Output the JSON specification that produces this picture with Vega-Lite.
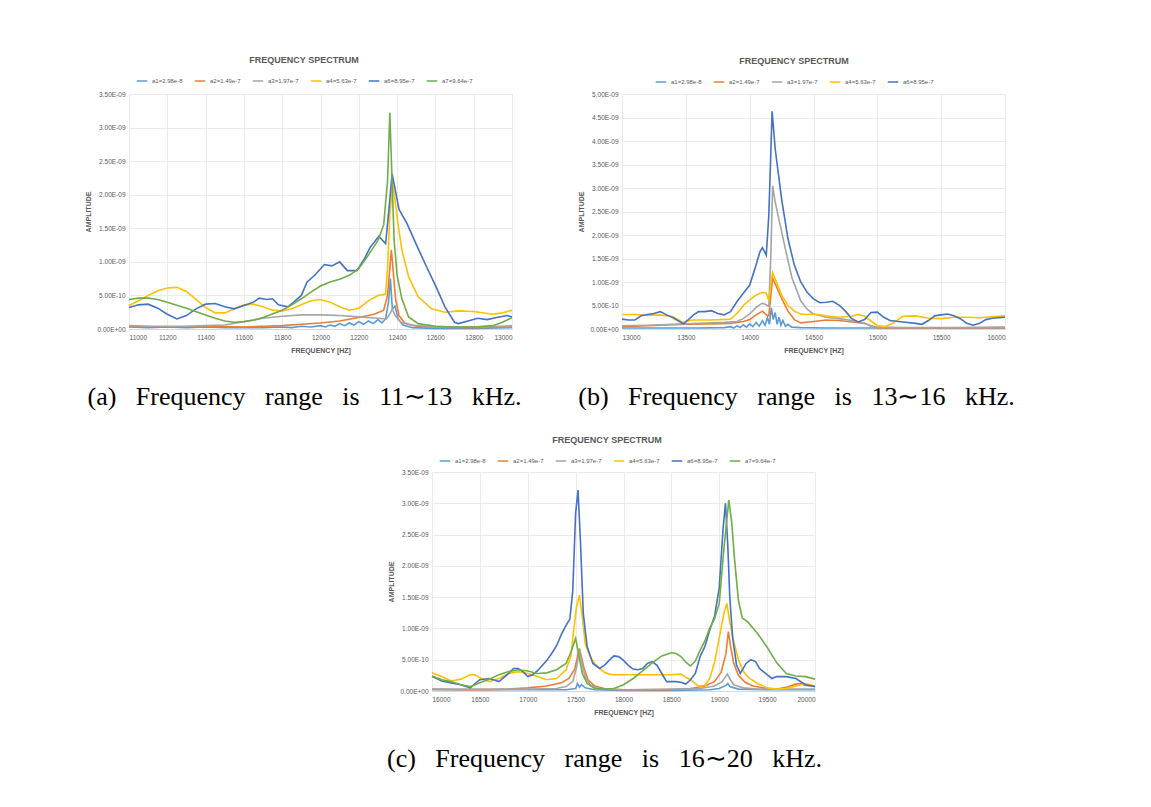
{
"$schema": "https://vega.github.io/schema/vega-lite/v6.json",
"padding": {"left": 84, "top": 56, "right": 5, "bottom": 5},
"bounds": "flush",
"spacing": 378,
"datasets": {
"a": [
{"s":"a1","f":11000,"v":0.03e-9},{"s":"a1","f":11100,"v":0.02e-9},{"s":"a1","f":11200,"v":0.03e-9},{"s":"a1","f":11300,"v":0.02e-9},{"s":"a1","f":11400,"v":0.03e-9},{"s":"a1","f":11500,"v":0.02e-9},{"s":"a1","f":11600,"v":0.02e-9},{"s":"a1","f":11700,"v":0.02e-9},{"s":"a1","f":11800,"v":0.03e-9},{"s":"a1","f":11850,"v":0.02e-9},{"s":"a1","f":11900,"v":0.04e-9},{"s":"a1","f":11950,"v":0.03e-9},{"s":"a1","f":12000,"v":0.05e-9},{"s":"a1","f":12025,"v":0.03e-9},{"s":"a1","f":12050,"v":0.06e-9},{"s":"a1","f":12075,"v":0.04e-9},{"s":"a1","f":12100,"v":0.08e-9},{"s":"a1","f":12125,"v":0.05e-9},{"s":"a1","f":12150,"v":0.09e-9},{"s":"a1","f":12175,"v":0.06e-9},{"s":"a1","f":12200,"v":0.11e-9},{"s":"a1","f":12225,"v":0.07e-9},{"s":"a1","f":12250,"v":0.12e-9},{"s":"a1","f":12275,"v":0.08e-9},{"s":"a1","f":12300,"v":0.14e-9},{"s":"a1","f":12320,"v":0.09e-9},{"s":"a1","f":12340,"v":0.15e-9},{"s":"a1","f":12355,"v":0.40e-9},{"s":"a1","f":12365,"v":0.75e-9},{"s":"a1","f":12375,"v":0.30e-9},{"s":"a1","f":12390,"v":0.34e-9},{"s":"a1","f":12405,"v":0.15e-9},{"s":"a1","f":12430,"v":0.06e-9},{"s":"a1","f":12480,"v":0.02e-9},{"s":"a1","f":12600,"v":0.01e-9},{"s":"a1","f":12800,"v":0.01e-9},{"s":"a1","f":13000,"v":0.02e-9},
{"s":"a2","f":11000,"v":0.04e-9},{"s":"a2","f":11200,"v":0.03e-9},{"s":"a2","f":11400,"v":0.04e-9},{"s":"a2","f":11600,"v":0.03e-9},{"s":"a2","f":11700,"v":0.04e-9},{"s":"a2","f":11800,"v":0.05e-9},{"s":"a2","f":11900,"v":0.07e-9},{"s":"a2","f":12000,"v":0.09e-9},{"s":"a2","f":12100,"v":0.12e-9},{"s":"a2","f":12200,"v":0.17e-9},{"s":"a2","f":12280,"v":0.22e-9},{"s":"a2","f":12330,"v":0.28e-9},{"s":"a2","f":12350,"v":0.5e-9},{"s":"a2","f":12362,"v":0.9e-9},{"s":"a2","f":12370,"v":1.18e-9},{"s":"a2","f":12380,"v":0.85e-9},{"s":"a2","f":12392,"v":0.45e-9},{"s":"a2","f":12410,"v":0.2e-9},{"s":"a2","f":12440,"v":0.09e-9},{"s":"a2","f":12500,"v":0.04e-9},{"s":"a2","f":12600,"v":0.03e-9},{"s":"a2","f":12800,"v":0.02e-9},{"s":"a2","f":13000,"v":0.03e-9},
{"s":"a3","f":11000,"v":0.05e-9},{"s":"a3","f":11100,"v":0.04e-9},{"s":"a3","f":11200,"v":0.04e-9},{"s":"a3","f":11300,"v":0.04e-9},{"s":"a3","f":11400,"v":0.05e-9},{"s":"a3","f":11500,"v":0.06e-9},{"s":"a3","f":11600,"v":0.11e-9},{"s":"a3","f":11700,"v":0.16e-9},{"s":"a3","f":11800,"v":0.19e-9},{"s":"a3","f":11900,"v":0.21e-9},{"s":"a3","f":12000,"v":0.21e-9},{"s":"a3","f":12100,"v":0.2e-9},{"s":"a3","f":12200,"v":0.18e-9},{"s":"a3","f":12300,"v":0.16e-9},{"s":"a3","f":12345,"v":0.15e-9},{"s":"a3","f":12365,"v":0.24e-9},{"s":"a3","f":12375,"v":0.30e-9},{"s":"a3","f":12390,"v":0.2e-9},{"s":"a3","f":12420,"v":0.1e-9},{"s":"a3","f":12470,"v":0.06e-9},{"s":"a3","f":12550,"v":0.04e-9},{"s":"a3","f":12700,"v":0.03e-9},{"s":"a3","f":12850,"v":0.03e-9},{"s":"a3","f":13000,"v":0.05e-9},
{"s":"a4","f":11000,"v":0.35e-9},{"s":"a4","f":11050,"v":0.42e-9},{"s":"a4","f":11100,"v":0.50e-9},{"s":"a4","f":11150,"v":0.57e-9},{"s":"a4","f":11200,"v":0.61e-9},{"s":"a4","f":11250,"v":0.62e-9},{"s":"a4","f":11300,"v":0.56e-9},{"s":"a4","f":11350,"v":0.44e-9},{"s":"a4","f":11400,"v":0.32e-9},{"s":"a4","f":11450,"v":0.24e-9},{"s":"a4","f":11500,"v":0.24e-9},{"s":"a4","f":11550,"v":0.30e-9},{"s":"a4","f":11600,"v":0.36e-9},{"s":"a4","f":11650,"v":0.37e-9},{"s":"a4","f":11700,"v":0.33e-9},{"s":"a4","f":11750,"v":0.28e-9},{"s":"a4","f":11800,"v":0.27e-9},{"s":"a4","f":11850,"v":0.30e-9},{"s":"a4","f":11900,"v":0.36e-9},{"s":"a4","f":11950,"v":0.42e-9},{"s":"a4","f":12000,"v":0.44e-9},{"s":"a4","f":12050,"v":0.40e-9},{"s":"a4","f":12100,"v":0.33e-9},{"s":"a4","f":12150,"v":0.28e-9},{"s":"a4","f":12200,"v":0.31e-9},{"s":"a4","f":12250,"v":0.42e-9},{"s":"a4","f":12300,"v":0.50e-9},{"s":"a4","f":12340,"v":0.52e-9},{"s":"a4","f":12350,"v":0.9e-9},{"s":"a4","f":12362,"v":1.7e-9},{"s":"a4","f":12378,"v":2.15e-9},{"s":"a4","f":12390,"v":1.9e-9},{"s":"a4","f":12402,"v":1.62e-9},{"s":"a4","f":12425,"v":1.18e-9},{"s":"a4","f":12460,"v":0.78e-9},{"s":"a4","f":12510,"v":0.48e-9},{"s":"a4","f":12580,"v":0.30e-9},{"s":"a4","f":12650,"v":0.25e-9},{"s":"a4","f":12720,"v":0.27e-9},{"s":"a4","f":12800,"v":0.26e-9},{"s":"a4","f":12900,"v":0.22e-9},{"s":"a4","f":12950,"v":0.24e-9},{"s":"a4","f":13000,"v":0.28e-9},
{"s":"a6","f":11000,"v":0.32e-9},{"s":"a6","f":11050,"v":0.36e-9},{"s":"a6","f":11100,"v":0.37e-9},{"s":"a6","f":11150,"v":0.31e-9},{"s":"a6","f":11200,"v":0.22e-9},{"s":"a6","f":11250,"v":0.15e-9},{"s":"a6","f":11300,"v":0.20e-9},{"s":"a6","f":11350,"v":0.30e-9},{"s":"a6","f":11400,"v":0.37e-9},{"s":"a6","f":11450,"v":0.38e-9},{"s":"a6","f":11500,"v":0.33e-9},{"s":"a6","f":11550,"v":0.30e-9},{"s":"a6","f":11600,"v":0.35e-9},{"s":"a6","f":11650,"v":0.40e-9},{"s":"a6","f":11680,"v":0.46e-9},{"s":"a6","f":11720,"v":0.44e-9},{"s":"a6","f":11750,"v":0.45e-9},{"s":"a6","f":11780,"v":0.36e-9},{"s":"a6","f":11830,"v":0.33e-9},{"s":"a6","f":11860,"v":0.40e-9},{"s":"a6","f":11900,"v":0.50e-9},{"s":"a6","f":11930,"v":0.70e-9},{"s":"a6","f":11970,"v":0.80e-9},{"s":"a6","f":12020,"v":0.96e-9},{"s":"a6","f":12060,"v":0.94e-9},{"s":"a6","f":12100,"v":1.00e-9},{"s":"a6","f":12140,"v":0.87e-9},{"s":"a6","f":12190,"v":0.87e-9},{"s":"a6","f":12230,"v":1.05e-9},{"s":"a6","f":12260,"v":1.22e-9},{"s":"a6","f":12305,"v":1.38e-9},{"s":"a6","f":12340,"v":1.27e-9},{"s":"a6","f":12358,"v":1.80e-9},{"s":"a6","f":12374,"v":2.31e-9},{"s":"a6","f":12392,"v":2.05e-9},{"s":"a6","f":12410,"v":1.78e-9},{"s":"a6","f":12450,"v":1.58e-9},{"s":"a6","f":12500,"v":1.26e-9},{"s":"a6","f":12550,"v":0.95e-9},{"s":"a6","f":12600,"v":0.65e-9},{"s":"a6","f":12650,"v":0.33e-9},{"s":"a6","f":12700,"v":0.10e-9},{"s":"a6","f":12720,"v":0.08e-9},{"s":"a6","f":12770,"v":0.12e-9},{"s":"a6","f":12820,"v":0.16e-9},{"s":"a6","f":12870,"v":0.14e-9},{"s":"a6","f":12920,"v":0.17e-9},{"s":"a6","f":12975,"v":0.20e-9},{"s":"a6","f":13000,"v":0.18e-9},
{"s":"a7","f":11000,"v":0.44e-9},{"s":"a7","f":11050,"v":0.46e-9},{"s":"a7","f":11100,"v":0.46e-9},{"s":"a7","f":11150,"v":0.44e-9},{"s":"a7","f":11200,"v":0.40e-9},{"s":"a7","f":11300,"v":0.31e-9},{"s":"a7","f":11400,"v":0.21e-9},{"s":"a7","f":11450,"v":0.16e-9},{"s":"a7","f":11500,"v":0.12e-9},{"s":"a7","f":11550,"v":0.10e-9},{"s":"a7","f":11600,"v":0.11e-9},{"s":"a7","f":11650,"v":0.13e-9},{"s":"a7","f":11700,"v":0.17e-9},{"s":"a7","f":11800,"v":0.28e-9},{"s":"a7","f":11850,"v":0.36e-9},{"s":"a7","f":11900,"v":0.45e-9},{"s":"a7","f":11950,"v":0.55e-9},{"s":"a7","f":12000,"v":0.64e-9},{"s":"a7","f":12050,"v":0.70e-9},{"s":"a7","f":12100,"v":0.74e-9},{"s":"a7","f":12150,"v":0.80e-9},{"s":"a7","f":12200,"v":0.90e-9},{"s":"a7","f":12250,"v":1.10e-9},{"s":"a7","f":12300,"v":1.32e-9},{"s":"a7","f":12330,"v":1.55e-9},{"s":"a7","f":12350,"v":2.2e-9},{"s":"a7","f":12362,"v":3.22e-9},{"s":"a7","f":12375,"v":2.1e-9},{"s":"a7","f":12385,"v":1.3e-9},{"s":"a7","f":12400,"v":0.8e-9},{"s":"a7","f":12425,"v":0.45e-9},{"s":"a7","f":12460,"v":0.18e-9},{"s":"a7","f":12510,"v":0.08e-9},{"s":"a7","f":12600,"v":0.04e-9},{"s":"a7","f":12700,"v":0.03e-9},{"s":"a7","f":12800,"v":0.03e-9},{"s":"a7","f":12900,"v":0.05e-9},{"s":"a7","f":12950,"v":0.10e-9},{"s":"a7","f":13000,"v":0.17e-9}
],
"b": [
{"s":"a1","f":13000,"v":0.02e-9},{"s":"a1","f":13200,"v":0.02e-9},{"s":"a1","f":13400,"v":0.02e-9},{"s":"a1","f":13600,"v":0.02e-9},{"s":"a1","f":13800,"v":0.03e-9},{"s":"a1","f":13850,"v":0.05e-9},{"s":"a1","f":13875,"v":0.02e-9},{"s":"a1","f":13900,"v":0.07e-9},{"s":"a1","f":13925,"v":0.03e-9},{"s":"a1","f":13950,"v":0.09e-9},{"s":"a1","f":13975,"v":0.04e-9},{"s":"a1","f":14000,"v":0.11e-9},{"s":"a1","f":14025,"v":0.05e-9},{"s":"a1","f":14050,"v":0.14e-9},{"s":"a1","f":14075,"v":0.06e-9},{"s":"a1","f":14100,"v":0.18e-9},{"s":"a1","f":14120,"v":0.08e-9},{"s":"a1","f":14140,"v":0.24e-9},{"s":"a1","f":14155,"v":0.1e-9},{"s":"a1","f":14170,"v":0.45e-9},{"s":"a1","f":14185,"v":0.2e-9},{"s":"a1","f":14200,"v":0.35e-9},{"s":"a1","f":14215,"v":0.1e-9},{"s":"a1","f":14230,"v":0.25e-9},{"s":"a1","f":14245,"v":0.08e-9},{"s":"a1","f":14260,"v":0.18e-9},{"s":"a1","f":14280,"v":0.06e-9},{"s":"a1","f":14300,"v":0.1e-9},{"s":"a1","f":14330,"v":0.04e-9},{"s":"a1","f":14400,"v":0.03e-9},{"s":"a1","f":14600,"v":0.02e-9},{"s":"a1","f":15000,"v":0.02e-9},{"s":"a1","f":15500,"v":0.02e-9},{"s":"a1","f":16000,"v":0.02e-9},
{"s":"a2","f":13000,"v":0.05e-9},{"s":"a2","f":13200,"v":0.07e-9},{"s":"a2","f":13400,"v":0.09e-9},{"s":"a2","f":13500,"v":0.1e-9},{"s":"a2","f":13700,"v":0.11e-9},{"s":"a2","f":13850,"v":0.12e-9},{"s":"a2","f":13950,"v":0.16e-9},{"s":"a2","f":14000,"v":0.2e-9},{"s":"a2","f":14050,"v":0.3e-9},{"s":"a2","f":14100,"v":0.38e-9},{"s":"a2","f":14130,"v":0.3e-9},{"s":"a2","f":14150,"v":0.28e-9},{"s":"a2","f":14165,"v":0.7e-9},{"s":"a2","f":14180,"v":1.08e-9},{"s":"a2","f":14210,"v":0.9e-9},{"s":"a2","f":14250,"v":0.65e-9},{"s":"a2","f":14300,"v":0.38e-9},{"s":"a2","f":14350,"v":0.2e-9},{"s":"a2","f":14400,"v":0.13e-9},{"s":"a2","f":14500,"v":0.16e-9},{"s":"a2","f":14600,"v":0.19e-9},{"s":"a2","f":14700,"v":0.18e-9},{"s":"a2","f":14800,"v":0.15e-9},{"s":"a2","f":14900,"v":0.12e-9},{"s":"a2","f":14950,"v":0.06e-9},{"s":"a2","f":15000,"v":0.03e-9},{"s":"a2","f":15200,"v":0.02e-9},{"s":"a2","f":15600,"v":0.02e-9},{"s":"a2","f":16000,"v":0.03e-9},
{"s":"a3","f":13000,"v":0.07e-9},{"s":"a3","f":13200,"v":0.08e-9},{"s":"a3","f":13400,"v":0.1e-9},{"s":"a3","f":13600,"v":0.12e-9},{"s":"a3","f":13800,"v":0.14e-9},{"s":"a3","f":13900,"v":0.16e-9},{"s":"a3","f":13950,"v":0.22e-9},{"s":"a3","f":14000,"v":0.32e-9},{"s":"a3","f":14050,"v":0.46e-9},{"s":"a3","f":14100,"v":0.55e-9},{"s":"a3","f":14125,"v":0.52e-9},{"s":"a3","f":14150,"v":0.48e-9},{"s":"a3","f":14165,"v":1.5e-9},{"s":"a3","f":14180,"v":3.05e-9},{"s":"a3","f":14200,"v":2.7e-9},{"s":"a3","f":14240,"v":2.2e-9},{"s":"a3","f":14280,"v":1.7e-9},{"s":"a3","f":14330,"v":1.1e-9},{"s":"a3","f":14400,"v":0.6e-9},{"s":"a3","f":14450,"v":0.42e-9},{"s":"a3","f":14500,"v":0.32e-9},{"s":"a3","f":14600,"v":0.25e-9},{"s":"a3","f":14700,"v":0.22e-9},{"s":"a3","f":14800,"v":0.18e-9},{"s":"a3","f":14900,"v":0.12e-9},{"s":"a3","f":14950,"v":0.07e-9},{"s":"a3","f":15000,"v":0.04e-9},{"s":"a3","f":15200,"v":0.03e-9},{"s":"a3","f":15600,"v":0.03e-9},{"s":"a3","f":16000,"v":0.04e-9},
{"s":"a4","f":13000,"v":0.31e-9},{"s":"a4","f":13100,"v":0.31e-9},{"s":"a4","f":13200,"v":0.29e-9},{"s":"a4","f":13300,"v":0.30e-9},{"s":"a4","f":13400,"v":0.26e-9},{"s":"a4","f":13450,"v":0.18e-9},{"s":"a4","f":13480,"v":0.14e-9},{"s":"a4","f":13550,"v":0.19e-9},{"s":"a4","f":13700,"v":0.19e-9},{"s":"a4","f":13850,"v":0.21e-9},{"s":"a4","f":13900,"v":0.33e-9},{"s":"a4","f":13950,"v":0.5e-9},{"s":"a4","f":14000,"v":0.62e-9},{"s":"a4","f":14050,"v":0.72e-9},{"s":"a4","f":14100,"v":0.78e-9},{"s":"a4","f":14130,"v":0.76e-9},{"s":"a4","f":14150,"v":0.6e-9},{"s":"a4","f":14165,"v":0.95e-9},{"s":"a4","f":14180,"v":1.2e-9},{"s":"a4","f":14210,"v":1.0e-9},{"s":"a4","f":14250,"v":0.72e-9},{"s":"a4","f":14300,"v":0.5e-9},{"s":"a4","f":14350,"v":0.38e-9},{"s":"a4","f":14400,"v":0.32e-9},{"s":"a4","f":14450,"v":0.31e-9},{"s":"a4","f":14500,"v":0.32e-9},{"s":"a4","f":14600,"v":0.28e-9},{"s":"a4","f":14700,"v":0.25e-9},{"s":"a4","f":14800,"v":0.27e-9},{"s":"a4","f":14850,"v":0.31e-9},{"s":"a4","f":14900,"v":0.27e-9},{"s":"a4","f":14950,"v":0.17e-9},{"s":"a4","f":15000,"v":0.07e-9},{"s":"a4","f":15060,"v":0.05e-9},{"s":"a4","f":15120,"v":0.12e-9},{"s":"a4","f":15200,"v":0.27e-9},{"s":"a4","f":15300,"v":0.28e-9},{"s":"a4","f":15400,"v":0.23e-9},{"s":"a4","f":15500,"v":0.22e-9},{"s":"a4","f":15600,"v":0.25e-9},{"s":"a4","f":15700,"v":0.25e-9},{"s":"a4","f":15800,"v":0.24e-9},{"s":"a4","f":15900,"v":0.26e-9},{"s":"a4","f":16000,"v":0.28e-9},
{"s":"a6","f":13000,"v":0.21e-9},{"s":"a6","f":13050,"v":0.19e-9},{"s":"a6","f":13100,"v":0.19e-9},{"s":"a6","f":13150,"v":0.28e-9},{"s":"a6","f":13200,"v":0.31e-9},{"s":"a6","f":13250,"v":0.33e-9},{"s":"a6","f":13300,"v":0.37e-9},{"s":"a6","f":13350,"v":0.30e-9},{"s":"a6","f":13400,"v":0.24e-9},{"s":"a6","f":13450,"v":0.16e-9},{"s":"a6","f":13480,"v":0.11e-9},{"s":"a6","f":13520,"v":0.2e-9},{"s":"a6","f":13560,"v":0.3e-9},{"s":"a6","f":13600,"v":0.37e-9},{"s":"a6","f":13650,"v":0.37e-9},{"s":"a6","f":13700,"v":0.39e-9},{"s":"a6","f":13750,"v":0.33e-9},{"s":"a6","f":13800,"v":0.30e-9},{"s":"a6","f":13850,"v":0.37e-9},{"s":"a6","f":13900,"v":0.58e-9},{"s":"a6","f":13950,"v":0.76e-9},{"s":"a6","f":14000,"v":0.93e-9},{"s":"a6","f":14050,"v":1.36e-9},{"s":"a6","f":14080,"v":1.64e-9},{"s":"a6","f":14100,"v":1.73e-9},{"s":"a6","f":14130,"v":1.57e-9},{"s":"a6","f":14150,"v":2.42e-9},{"s":"a6","f":14176,"v":4.63e-9},{"s":"a6","f":14200,"v":3.83e-9},{"s":"a6","f":14250,"v":2.77e-9},{"s":"a6","f":14300,"v":1.92e-9},{"s":"a6","f":14350,"v":1.36e-9},{"s":"a6","f":14400,"v":1.0e-9},{"s":"a6","f":14450,"v":0.78e-9},{"s":"a6","f":14500,"v":0.64e-9},{"s":"a6","f":14550,"v":0.56e-9},{"s":"a6","f":14600,"v":0.57e-9},{"s":"a6","f":14650,"v":0.59e-9},{"s":"a6","f":14700,"v":0.51e-9},{"s":"a6","f":14750,"v":0.38e-9},{"s":"a6","f":14800,"v":0.22e-9},{"s":"a6","f":14850,"v":0.15e-9},{"s":"a6","f":14900,"v":0.2e-9},{"s":"a6","f":14950,"v":0.35e-9},{"s":"a6","f":15000,"v":0.36e-9},{"s":"a6","f":15050,"v":0.25e-9},{"s":"a6","f":15100,"v":0.18e-9},{"s":"a6","f":15200,"v":0.15e-9},{"s":"a6","f":15300,"v":0.12e-9},{"s":"a6","f":15350,"v":0.1e-9},{"s":"a6","f":15400,"v":0.18e-9},{"s":"a6","f":15450,"v":0.28e-9},{"s":"a6","f":15500,"v":0.3e-9},{"s":"a6","f":15550,"v":0.32e-9},{"s":"a6","f":15600,"v":0.28e-9},{"s":"a6","f":15650,"v":0.22e-9},{"s":"a6","f":15700,"v":0.12e-9},{"s":"a6","f":15750,"v":0.08e-9},{"s":"a6","f":15800,"v":0.12e-9},{"s":"a6","f":15850,"v":0.2e-9},{"s":"a6","f":15900,"v":0.23e-9},{"s":"a6","f":16000,"v":0.25e-9}
],
"c": [
{"s":"a1","f":16000,"v":0.02e-9},{"s":"a1","f":16500,"v":0.02e-9},{"s":"a1","f":17000,"v":0.02e-9},{"s":"a1","f":17400,"v":0.02e-9},{"s":"a1","f":17500,"v":0.04e-9},{"s":"a1","f":17520,"v":0.12e-9},{"s":"a1","f":17540,"v":0.06e-9},{"s":"a1","f":17560,"v":0.1e-9},{"s":"a1","f":17600,"v":0.05e-9},{"s":"a1","f":17700,"v":0.02e-9},{"s":"a1","f":18000,"v":0.01e-9},{"s":"a1","f":18500,"v":0.01e-9},{"s":"a1","f":18900,"v":0.02e-9},{"s":"a1","f":19000,"v":0.04e-9},{"s":"a1","f":19070,"v":0.09e-9},{"s":"a1","f":19090,"v":0.12e-9},{"s":"a1","f":19110,"v":0.07e-9},{"s":"a1","f":19200,"v":0.03e-9},{"s":"a1","f":19500,"v":0.02e-9},{"s":"a1","f":20000,"v":0.02e-9},
{"s":"a2","f":16000,"v":0.03e-9},{"s":"a2","f":16300,"v":0.02e-9},{"s":"a2","f":16600,"v":0.02e-9},{"s":"a2","f":16800,"v":0.03e-9},{"s":"a2","f":17000,"v":0.05e-9},{"s":"a2","f":17200,"v":0.08e-9},{"s":"a2","f":17350,"v":0.13e-9},{"s":"a2","f":17430,"v":0.2e-9},{"s":"a2","f":17490,"v":0.35e-9},{"s":"a2","f":17520,"v":0.55e-9},{"s":"a2","f":17540,"v":0.68e-9},{"s":"a2","f":17560,"v":0.55e-9},{"s":"a2","f":17590,"v":0.35e-9},{"s":"a2","f":17630,"v":0.18e-9},{"s":"a2","f":17700,"v":0.08e-9},{"s":"a2","f":17800,"v":0.04e-9},{"s":"a2","f":18000,"v":0.02e-9},{"s":"a2","f":18500,"v":0.02e-9},{"s":"a2","f":18700,"v":0.04e-9},{"s":"a2","f":18850,"v":0.08e-9},{"s":"a2","f":18950,"v":0.15e-9},{"s":"a2","f":19020,"v":0.3e-9},{"s":"a2","f":19070,"v":0.6e-9},{"s":"a2","f":19095,"v":0.95e-9},{"s":"a2","f":19120,"v":0.7e-9},{"s":"a2","f":19150,"v":0.45e-9},{"s":"a2","f":19200,"v":0.25e-9},{"s":"a2","f":19270,"v":0.14e-9},{"s":"a2","f":19350,"v":0.08e-9},{"s":"a2","f":19500,"v":0.04e-9},{"s":"a2","f":19600,"v":0.03e-9},{"s":"a2","f":19700,"v":0.06e-9},{"s":"a2","f":19800,"v":0.11e-9},{"s":"a2","f":19850,"v":0.12e-9},{"s":"a2","f":19900,"v":0.09e-9},{"s":"a2","f":20000,"v":0.08e-9},
{"s":"a3","f":16000,"v":0.03e-9},{"s":"a3","f":16500,"v":0.03e-9},{"s":"a3","f":17000,"v":0.03e-9},{"s":"a3","f":17300,"v":0.04e-9},{"s":"a3","f":17400,"v":0.07e-9},{"s":"a3","f":17470,"v":0.15e-9},{"s":"a3","f":17510,"v":0.38e-9},{"s":"a3","f":17540,"v":0.65e-9},{"s":"a3","f":17565,"v":0.45e-9},{"s":"a3","f":17600,"v":0.22e-9},{"s":"a3","f":17650,"v":0.1e-9},{"s":"a3","f":17750,"v":0.03e-9},{"s":"a3","f":18000,"v":0.02e-9},{"s":"a3","f":18500,"v":0.03e-9},{"s":"a3","f":18800,"v":0.04e-9},{"s":"a3","f":18950,"v":0.08e-9},{"s":"a3","f":19030,"v":0.15e-9},{"s":"a3","f":19085,"v":0.27e-9},{"s":"a3","f":19110,"v":0.2e-9},{"s":"a3","f":19150,"v":0.1e-9},{"s":"a3","f":19250,"v":0.05e-9},{"s":"a3","f":19400,"v":0.03e-9},{"s":"a3","f":20000,"v":0.03e-9},
{"s":"a4","f":16000,"v":0.29e-9},{"s":"a4","f":16100,"v":0.23e-9},{"s":"a4","f":16200,"v":0.16e-9},{"s":"a4","f":16300,"v":0.19e-9},{"s":"a4","f":16400,"v":0.26e-9},{"s":"a4","f":16450,"v":0.26e-9},{"s":"a4","f":16500,"v":0.21e-9},{"s":"a4","f":16600,"v":0.15e-9},{"s":"a4","f":16700,"v":0.2e-9},{"s":"a4","f":16800,"v":0.28e-9},{"s":"a4","f":16900,"v":0.31e-9},{"s":"a4","f":17000,"v":0.28e-9},{"s":"a4","f":17100,"v":0.23e-9},{"s":"a4","f":17200,"v":0.18e-9},{"s":"a4","f":17300,"v":0.2e-9},{"s":"a4","f":17400,"v":0.34e-9},{"s":"a4","f":17450,"v":0.56e-9},{"s":"a4","f":17480,"v":0.97e-9},{"s":"a4","f":17510,"v":1.35e-9},{"s":"a4","f":17540,"v":1.53e-9},{"s":"a4","f":17570,"v":1.19e-9},{"s":"a4","f":17600,"v":0.76e-9},{"s":"a4","f":17650,"v":0.55e-9},{"s":"a4","f":17700,"v":0.44e-9},{"s":"a4","f":17750,"v":0.36e-9},{"s":"a4","f":17800,"v":0.3e-9},{"s":"a4","f":17850,"v":0.27e-9},{"s":"a4","f":17900,"v":0.26e-9},{"s":"a4","f":18200,"v":0.26e-9},{"s":"a4","f":18500,"v":0.26e-9},{"s":"a4","f":18600,"v":0.27e-9},{"s":"a4","f":18650,"v":0.22e-9},{"s":"a4","f":18700,"v":0.18e-9},{"s":"a4","f":18780,"v":0.08e-9},{"s":"a4","f":18850,"v":0.09e-9},{"s":"a4","f":18900,"v":0.2e-9},{"s":"a4","f":18950,"v":0.45e-9},{"s":"a4","f":19000,"v":0.85e-9},{"s":"a4","f":19050,"v":1.25e-9},{"s":"a4","f":19080,"v":1.4e-9},{"s":"a4","f":19110,"v":1.1e-9},{"s":"a4","f":19150,"v":0.8e-9},{"s":"a4","f":19200,"v":0.5e-9},{"s":"a4","f":19250,"v":0.32e-9},{"s":"a4","f":19300,"v":0.22e-9},{"s":"a4","f":19400,"v":0.12e-9},{"s":"a4","f":19500,"v":0.05e-9},{"s":"a4","f":19600,"v":0.03e-9},{"s":"a4","f":19700,"v":0.04e-9},{"s":"a4","f":19800,"v":0.08e-9},{"s":"a4","f":19900,"v":0.12e-9},{"s":"a4","f":20000,"v":0.08e-9},
{"s":"a6","f":16000,"v":0.23e-9},{"s":"a6","f":16050,"v":0.2e-9},{"s":"a6","f":16100,"v":0.16e-9},{"s":"a6","f":16200,"v":0.13e-9},{"s":"a6","f":16300,"v":0.1e-9},{"s":"a6","f":16400,"v":0.05e-9},{"s":"a6","f":16450,"v":0.12e-9},{"s":"a6","f":16500,"v":0.18e-9},{"s":"a6","f":16600,"v":0.2e-9},{"s":"a6","f":16700,"v":0.15e-9},{"s":"a6","f":16800,"v":0.28e-9},{"s":"a6","f":16850,"v":0.36e-9},{"s":"a6","f":16900,"v":0.36e-9},{"s":"a6","f":16950,"v":0.31e-9},{"s":"a6","f":17000,"v":0.23e-9},{"s":"a6","f":17050,"v":0.26e-9},{"s":"a6","f":17100,"v":0.32e-9},{"s":"a6","f":17200,"v":0.49e-9},{"s":"a6","f":17250,"v":0.6e-9},{"s":"a6","f":17300,"v":0.72e-9},{"s":"a6","f":17350,"v":0.9e-9},{"s":"a6","f":17400,"v":1.05e-9},{"s":"a6","f":17440,"v":1.15e-9},{"s":"a6","f":17470,"v":1.6e-9},{"s":"a6","f":17500,"v":2.84e-9},{"s":"a6","f":17525,"v":3.21e-9},{"s":"a6","f":17550,"v":2.41e-9},{"s":"a6","f":17580,"v":1.24e-9},{"s":"a6","f":17620,"v":0.71e-9},{"s":"a6","f":17680,"v":0.44e-9},{"s":"a6","f":17750,"v":0.36e-9},{"s":"a6","f":17800,"v":0.41e-9},{"s":"a6","f":17850,"v":0.49e-9},{"s":"a6","f":17900,"v":0.56e-9},{"s":"a6","f":17950,"v":0.55e-9},{"s":"a6","f":18000,"v":0.49e-9},{"s":"a6","f":18050,"v":0.41e-9},{"s":"a6","f":18100,"v":0.35e-9},{"s":"a6","f":18150,"v":0.34e-9},{"s":"a6","f":18200,"v":0.36e-9},{"s":"a6","f":18250,"v":0.44e-9},{"s":"a6","f":18300,"v":0.47e-9},{"s":"a6","f":18350,"v":0.41e-9},{"s":"a6","f":18400,"v":0.28e-9},{"s":"a6","f":18450,"v":0.15e-9},{"s":"a6","f":18500,"v":0.15e-9},{"s":"a6","f":18550,"v":0.15e-9},{"s":"a6","f":18600,"v":0.14e-9},{"s":"a6","f":18650,"v":0.11e-9},{"s":"a6","f":18700,"v":0.18e-9},{"s":"a6","f":18750,"v":0.28e-9},{"s":"a6","f":18800,"v":0.55e-9},{"s":"a6","f":18850,"v":0.71e-9},{"s":"a6","f":18900,"v":0.97e-9},{"s":"a6","f":18950,"v":1.19e-9},{"s":"a6","f":19000,"v":1.65e-9},{"s":"a6","f":19040,"v":2.6e-9},{"s":"a6","f":19065,"v":3.0e-9},{"s":"a6","f":19090,"v":2.3e-9},{"s":"a6","f":19110,"v":1.5e-9},{"s":"a6","f":19140,"v":0.85e-9},{"s":"a6","f":19180,"v":0.42e-9},{"s":"a6","f":19220,"v":0.28e-9},{"s":"a6","f":19280,"v":0.44e-9},{"s":"a6","f":19330,"v":0.5e-9},{"s":"a6","f":19380,"v":0.47e-9},{"s":"a6","f":19420,"v":0.36e-9},{"s":"a6","f":19500,"v":0.26e-9},{"s":"a6","f":19550,"v":0.2e-9},{"s":"a6","f":19600,"v":0.23e-9},{"s":"a6","f":19700,"v":0.23e-9},{"s":"a6","f":19800,"v":0.2e-9},{"s":"a6","f":19900,"v":0.1e-9},{"s":"a6","f":20000,"v":0.07e-9},
{"s":"a7","f":16000,"v":0.24e-9},{"s":"a7","f":16100,"v":0.18e-9},{"s":"a7","f":16200,"v":0.15e-9},{"s":"a7","f":16300,"v":0.1e-9},{"s":"a7","f":16400,"v":0.07e-9},{"s":"a7","f":16500,"v":0.13e-9},{"s":"a7","f":16600,"v":0.19e-9},{"s":"a7","f":16700,"v":0.26e-9},{"s":"a7","f":16800,"v":0.31e-9},{"s":"a7","f":16900,"v":0.34e-9},{"s":"a7","f":17000,"v":0.32e-9},{"s":"a7","f":17100,"v":0.28e-9},{"s":"a7","f":17200,"v":0.29e-9},{"s":"a7","f":17300,"v":0.34e-9},{"s":"a7","f":17400,"v":0.44e-9},{"s":"a7","f":17450,"v":0.62e-9},{"s":"a7","f":17500,"v":0.84e-9},{"s":"a7","f":17530,"v":0.6e-9},{"s":"a7","f":17570,"v":0.28e-9},{"s":"a7","f":17620,"v":0.12e-9},{"s":"a7","f":17700,"v":0.04e-9},{"s":"a7","f":17800,"v":0.03e-9},{"s":"a7","f":17900,"v":0.04e-9},{"s":"a7","f":18000,"v":0.1e-9},{"s":"a7","f":18100,"v":0.2e-9},{"s":"a7","f":18200,"v":0.32e-9},{"s":"a7","f":18300,"v":0.45e-9},{"s":"a7","f":18400,"v":0.56e-9},{"s":"a7","f":18500,"v":0.61e-9},{"s":"a7","f":18550,"v":0.6e-9},{"s":"a7","f":18600,"v":0.55e-9},{"s":"a7","f":18650,"v":0.46e-9},{"s":"a7","f":18700,"v":0.4e-9},{"s":"a7","f":18750,"v":0.48e-9},{"s":"a7","f":18800,"v":0.65e-9},{"s":"a7","f":18850,"v":0.8e-9},{"s":"a7","f":18900,"v":1.0e-9},{"s":"a7","f":18950,"v":1.15e-9},{"s":"a7","f":19000,"v":1.4e-9},{"s":"a7","f":19050,"v":2.3e-9},{"s":"a7","f":19100,"v":3.05e-9},{"s":"a7","f":19130,"v":2.7e-9},{"s":"a7","f":19160,"v":2.1e-9},{"s":"a7","f":19200,"v":1.45e-9},{"s":"a7","f":19240,"v":1.17e-9},{"s":"a7","f":19300,"v":1.1e-9},{"s":"a7","f":19400,"v":0.92e-9},{"s":"a7","f":19500,"v":0.7e-9},{"s":"a7","f":19600,"v":0.45e-9},{"s":"a7","f":19700,"v":0.28e-9},{"s":"a7","f":19800,"v":0.24e-9},{"s":"a7","f":19900,"v":0.23e-9},{"s":"a7","f":20000,"v":0.19e-9}
]
},
"vconcat": [
{
"bounds": "flush",
"spacing": 110,
"hconcat": [
{
"width": 383, "height": 235,
"data": {"name": "a"},
"title": {"text": "(a)\u00a0\u00a0\u00a0Frequency\u00a0\u00a0\u00a0range\u00a0\u00a0\u00a0is\u00a0\u00a0\u00a011\u223c13\u00a0\u00a0\u00a0kHz.", "dx": -16},
"mark": {"type": "line", "strokeWidth": 1.6},
"encoding": {
"x": {"field": "f", "type": "quantitative", "scale": {"domain": [11000, 13000], "nice": false, "zero": false}, "axis": {"values": [11000,11200,11400,11600,11800,12000,12200,12400,12600,12800,13000], "format": "d", "title": "FREQUENCY [HZ]"}},
"y": {"field": "v", "type": "quantitative", "scale": {"domain": [0, 3.5e-9], "nice": false}, "axis": {"values": [0,5e-10,1e-9,1.5e-9,2e-9,2.5e-9,3e-9,3.5e-9], "title": "AMPLITUDE"}},
"color": {"field": "s", "type": "nominal", "sort": null, "scale": {"domain": ["a1","a2","a3","a4","a6","a7"], "range": ["#5B9BD5","#ED7D31","#A5A5A5","#FFC000","#4472C4","#70AD47"]}, "legend": {"title": "FREQUENCY SPECTRUM", "orient": "none", "legendX": 7, "legendY": -38, "labelExpr": "datum.label == 'a1' ? 'a1=2.98e-8' : datum.label == 'a2' ? 'a2=1.49e-7' : datum.label == 'a3' ? 'a3=1.97e-7' : datum.label == 'a4' ? 'a4=5.63e-7' : datum.label == 'a6' ? 'a6=8.95e-7' : 'a7=9.64e-7'"}}
}
},
{
"width": 383, "height": 235,
"data": {"name": "b"},
"title": {"text": "(b)\u00a0\u00a0\u00a0Frequency\u00a0\u00a0\u00a0range\u00a0\u00a0\u00a0is\u00a0\u00a0\u00a013\u223c16\u00a0\u00a0\u00a0kHz.", "dx": -17},
"mark": {"type": "line", "strokeWidth": 1.6},
"encoding": {
"x": {"field": "f", "type": "quantitative", "scale": {"domain": [13000, 16000], "nice": false, "zero": false}, "axis": {"values": [13000,13500,14000,14500,15000,15500,16000], "format": "d", "title": "FREQUENCY [HZ]"}},
"y": {"field": "v", "type": "quantitative", "scale": {"domain": [0, 5e-9], "nice": false}, "axis": {"values": [0,5e-10,1e-9,1.5e-9,2e-9,2.5e-9,3e-9,3.5e-9,4e-9,4.5e-9,5e-9], "title": "AMPLITUDE"}},
"color": {"field": "s", "type": "nominal", "sort": null, "scale": {"domain": ["a1","a2","a3","a4","a6"], "range": ["#5B9BD5","#ED7D31","#A5A5A5","#FFC000","#4472C4"]}, "legend": {"title": "FREQUENCY SPECTRUM", "orient": "none", "legendX": 33, "legendY": -37, "labelExpr": "datum.label == 'a1' ? 'a1=2.98e-8' : datum.label == 'a2' ? 'a2=1.49e-7' : datum.label == 'a3' ? 'a3=1.97e-7' : datum.label == 'a4' ? 'a4=5.63e-7' : 'a6=8.95e-7'"}}
}
}
],
"resolve": {"scale": {"color": "independent", "x": "independent", "y": "independent"}, "legend": {"color": "independent"}}
},
{
"bounds": "flush",
"spacing": 0,
"hconcat": [
{"width": 303, "height": 219, "data": {"values": []}, "mark": "point"},
{
"width": 383, "height": 219,
"data": {"name": "c"},
"title": {"text": "(c)\u00a0\u00a0\u00a0Frequency\u00a0\u00a0\u00a0range\u00a0\u00a0\u00a0is\u00a0\u00a0\u00a016\u223c20\u00a0\u00a0\u00a0kHz.", "dx": -19},
"mark": {"type": "line", "strokeWidth": 1.6},
"encoding": {
"x": {"field": "f", "type": "quantitative", "scale": {"domain": [16000, 20000], "nice": false, "zero": false}, "axis": {"values": [16000,16500,17000,17500,18000,18500,19000,19500,20000], "format": "d", "title": "FREQUENCY [HZ]"}},
"y": {"field": "v", "type": "quantitative", "scale": {"domain": [0, 3.5e-9], "nice": false}, "axis": {"values": [0,5e-10,1e-9,1.5e-9,2e-9,2.5e-9,3e-9,3.5e-9], "title": "AMPLITUDE"}},
"color": {"field": "s", "type": "nominal", "sort": null, "scale": {"domain": ["a1","a2","a3","a4","a6","a7"], "range": ["#5B9BD5","#ED7D31","#A5A5A5","#FFC000","#4472C4","#70AD47"]}, "legend": {"title": "FREQUENCY SPECTRUM", "orient": "none", "legendX": 7, "legendY": -36, "labelExpr": "datum.label == 'a1' ? 'a1=2.98e-8' : datum.label == 'a2' ? 'a2=1.49e-7' : datum.label == 'a3' ? 'a3=1.97e-7' : datum.label == 'a4' ? 'a4=5.63e-7' : datum.label == 'a6' ? 'a6=8.95e-7' : 'a7=9.64e-7'"}}
}
}
],
"resolve": {"scale": {"color": "independent", "x": "independent", "y": "independent"}, "legend": {"color": "independent"}}
}
],
"resolve": {"scale": {"color": "independent", "x": "independent", "y": "independent"}, "legend": {"color": "independent"}},
"config": {
"view": {"stroke": null},
"font": "Liberation Sans",
"axis": {"labelFontSize": 6.5, "labelColor": "#595959", "titleFontSize": 7, "titleColor": "#595959", "titleFontWeight": "bold", "gridColor": "#E6E6E6", "gridWidth": 0.8, "ticks": false, "domain": false, "labelPadding": 4, "titlePadding": 6},
"axisX": {"domain": true, "domainColor": "#D9D9D9", "labelPadding": 5},
"axisY": {"labelExpr": "datum.value == 0 ? '0.00E+00' : (datum.value < 9.9e-10 ? upper(format(datum.value, '.2e')) : replace(upper(format(datum.value, '.2e')), 'E-', 'E-0'))", "titlePadding": 5},
"legend": {"direction": "horizontal", "labelFontSize": 6, "labelColor": "#595959", "titleFontSize": 9, "titleColor": "#595959", "titleFontWeight": "bold", "titleAnchor": "middle", "titleOrient": "top", "titlePadding": 10, "symbolType": "stroke", "symbolStrokeWidth": 1.5, "symbolSize": 110, "columnPadding": 8, "padding": 0},
"title": {"orient": "bottom", "anchor": "middle", "frame": "group", "font": "Liberation Serif", "fontSize": 26, "fontWeight": "normal", "color": "#000000", "offset": 30}
}
}
